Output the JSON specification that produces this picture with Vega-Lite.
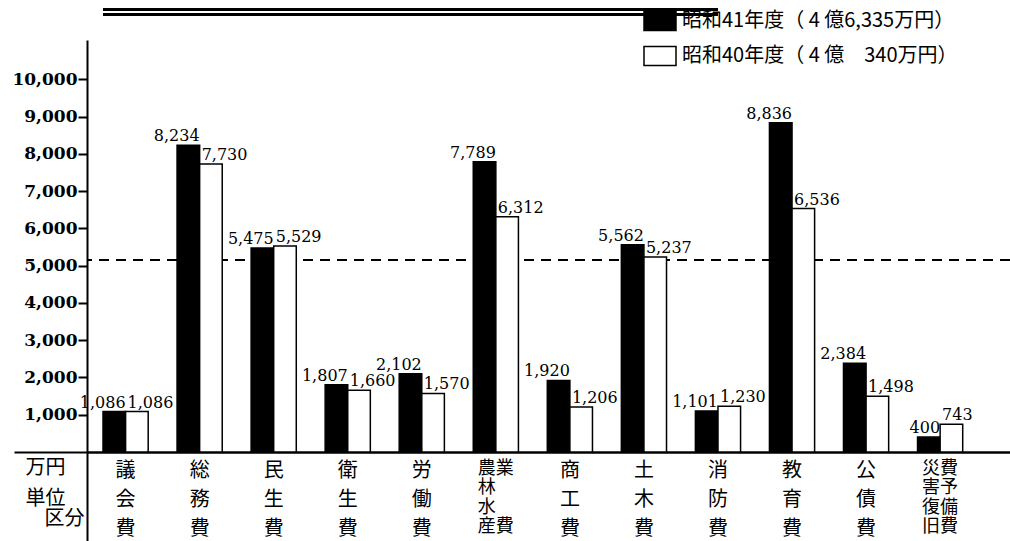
{
  "$schema": "https://vega.github.io/schema/vega-lite/v6.json",
  "width": 923,
  "height": 501,
  "autosize": {"type": "none"},
  "padding": {"left": 87, "top": 40, "right": 0, "bottom": 0},
  "background": "white",
  "config": {"view": {"stroke": null}, "font": "Noto Sans CJK JP"},
  "data": {
    "values": [
      {"区分": "議会費", "年度": "昭和41年度（ 4 億6,335万円）", "金額": 1086},
      {"区分": "議会費", "年度": "昭和40年度（ 4 億　340万円）", "金額": 1086},
      {"区分": "総務費", "年度": "昭和41年度（ 4 億6,335万円）", "金額": 8234},
      {"区分": "総務費", "年度": "昭和40年度（ 4 億　340万円）", "金額": 7730},
      {"区分": "民生費", "年度": "昭和41年度（ 4 億6,335万円）", "金額": 5475},
      {"区分": "民生費", "年度": "昭和40年度（ 4 億　340万円）", "金額": 5529},
      {"区分": "衛生費", "年度": "昭和41年度（ 4 億6,335万円）", "金額": 1807},
      {"区分": "衛生費", "年度": "昭和40年度（ 4 億　340万円）", "金額": 1660},
      {"区分": "労働費", "年度": "昭和41年度（ 4 億6,335万円）", "金額": 2102},
      {"区分": "労働費", "年度": "昭和40年度（ 4 億　340万円）", "金額": 1570},
      {"区分": "農林水産業費", "年度": "昭和41年度（ 4 億6,335万円）", "金額": 7789},
      {"区分": "農林水産業費", "年度": "昭和40年度（ 4 億　340万円）", "金額": 6312},
      {"区分": "商工費", "年度": "昭和41年度（ 4 億6,335万円）", "金額": 1920},
      {"区分": "商工費", "年度": "昭和40年度（ 4 億　340万円）", "金額": 1206},
      {"区分": "土木費", "年度": "昭和41年度（ 4 億6,335万円）", "金額": 5562},
      {"区分": "土木費", "年度": "昭和40年度（ 4 億　340万円）", "金額": 5237},
      {"区分": "消防費", "年度": "昭和41年度（ 4 億6,335万円）", "金額": 1101},
      {"区分": "消防費", "年度": "昭和40年度（ 4 億　340万円）", "金額": 1230},
      {"区分": "教育費", "年度": "昭和41年度（ 4 億6,335万円）", "金額": 8836},
      {"区分": "教育費", "年度": "昭和40年度（ 4 億　340万円）", "金額": 6536},
      {"区分": "公債費", "年度": "昭和41年度（ 4 億6,335万円）", "金額": 2384},
      {"区分": "公債費", "年度": "昭和40年度（ 4 億　340万円）", "金額": 1498},
      {"区分": "災害復旧費・予備費", "年度": "昭和41年度（ 4 億6,335万円）", "金額": 400},
      {"区分": "災害復旧費・予備費", "年度": "昭和40年度（ 4 億　340万円）", "金額": 743}
    ]
  },
  "layer": [
    {
      "mark": {"type": "rule", "strokeDash": [10, 7], "strokeWidth": 1.6, "color": "black"},
      "encoding": {"y": {"datum": 5150}}
    },
    {
      "mark": {"type": "bar", "stroke": "black", "strokeWidth": 1.5},
      "encoding": {
        "x": {
          "field": "区分",
          "type": "nominal",
          "sort": null,
          "scale": {"paddingInner": 0.39, "paddingOuter": 0.4275, "align": 0.253},
          "axis": {
            "orient": "bottom",
            "offset": -89,
            "domainColor": "black",
            "domainWidth": 2.5,
            "ticks": false,
            "labelAngle": 0,
            "labelFont": "Noto Sans CJK JP",
            "labelFontSize": 20,
            "labelLineHeight": 29,
            "labelBaseline": "top",
            "labelPadding": 8,
            "labelColor": "black",
            "labelBound": false,
            "labelOverlap": false,
            "labelLimit": 0,
            "labelExpr": "length(datum.label) > 3 ? '' : [slice(datum.label,0,1), slice(datum.label,1,2), slice(datum.label,2,3)]",
            "title": "区分",
            "titleX": -23,
            "titleY": 56,
            "titleAlign": "center",
            "titleBaseline": "top",
            "titleFont": "Noto Sans CJK JP",
            "titleFontSize": 20,
            "titleFontWeight": "normal",
            "titleColor": "black"
          }
        },
        "xOffset": {
          "field": "年度",
          "type": "nominal",
          "scale": {"domain": ["昭和41年度（ 4 億6,335万円）", "昭和40年度（ 4 億　340万円）"], "paddingInner": 0}
        },
        "y": {
          "field": "金額",
          "type": "quantitative",
          "scale": {"domain": [-2390, 11060], "nice": false, "zero": false},
          "axis": {
            "values": [0, 1000, 2000, 3000, 4000, 5000, 6000, 7000, 8000, 9000, 10000],
            "labelExpr": "datum.value == 0 ? '' : format(datum.value, ',')",
            "labelFont": "DejaVu Serif",
            "labelFontSize": 17,
            "labelFontWeight": "bold",
            "labelColor": "black",
            "labelPadding": 1,
            "tickColor": "black",
            "tickWidth": 2,
            "tickSize": {"condition": {"test": "datum.value == 0", "value": 73}, "value": 9},
            "domainColor": "black",
            "domainWidth": 2,
            "grid": false,
            "title": ["万円", "単位"],
            "titleAngle": 0,
            "titleAlign": "right",
            "titleBaseline": "top",
            "titleX": -22,
            "titleY": 417,
            "titleFont": "Noto Sans CJK JP",
            "titleFontSize": 20,
            "titleFontWeight": "normal",
            "titleLineHeight": 31,
            "titleColor": "black"
          }
        },
        "y2": {"datum": 0},
        "color": {
          "field": "年度",
          "type": "nominal",
          "scale": {"domain": ["昭和41年度（ 4 億6,335万円）", "昭和40年度（ 4 億　340万円）"], "range": ["black", "white"]},
          "legend": {
            "orient": "none",
            "legendX": 556,
            "legendY": -36,
            "title": null,
            "symbolType": "M-1,-0.6H1V0.6H-1Z",
            "symbolSize": 1024,
            "symbolStrokeColor": "black",
            "symbolStrokeWidth": 1.5,
            "symbolOpacity": 1,
            "labelFont": "Noto Sans CJK JP",
            "labelFontSize": 20,
            "labelColor": "black",
            "labelOffset": 5,
            "labelLimit": 0,
            "rowPadding": 5
          }
        }
      }
    },
    {
      "transform": [{"filter": "datum['年度'] == '昭和41年度（ 4 億6,335万円）'"}],
      "mark": {"type": "text", "align": "right", "baseline": "alphabetic", "dx": 0, "dy": -4, "font": "DejaVu Serif", "fontSize": 16, "color": "black"},
      "encoding": {
        "x": {"field": "区分", "type": "nominal", "sort": null},
        "y": {"field": "金額", "type": "quantitative"},
        "text": {"field": "金額", "type": "quantitative", "format": ","}
      }
    },
    {
      "transform": [{"filter": "datum['年度'] == '昭和40年度（ 4 億　340万円）'"}],
      "mark": {"type": "text", "align": "left", "baseline": "alphabetic", "dx": 2, "dy": -4, "font": "DejaVu Serif", "fontSize": 16, "color": "black"},
      "encoding": {
        "x": {"field": "区分", "type": "nominal", "sort": null},
        "y": {"field": "金額", "type": "quantitative"},
        "text": {"field": "金額", "type": "quantitative", "format": ","}
      }
    },
    {
      "transform": [
        {"filter": "datum['年度'] == '昭和41年度（ 4 億6,335万円）' && length(datum['区分']) > 3"},
        {"calculate": "datum['区分'] == '農林水産業費' ? ['農業', '林', '水', '産費'] : ['災費', '害予', '復備', '旧費']", "as": "縦書き"}
      ],
      "mark": {"type": "text", "align": "left", "dx": -18, "baseline": "top", "lineHeight": 19.5, "font": "Noto Sans CJK JP", "fontSize": 18, "color": "black"},
      "encoding": {
        "x": {"field": "区分", "type": "nominal", "sort": null},
        "y": {"datum": -215},
        "text": {"field": "縦書き", "type": "nominal"}
      }
    },
    {
      "mark": {"type": "rule", "strokeWidth": 2.6, "color": "black"},
      "encoding": {
        "x": {"datum": "議会費", "bandPosition": 0},
        "x2": {"datum": "消防費"},
        "y": {"datum": 11879}
      }
    },
    {
      "mark": {"type": "rule", "strokeWidth": 2.6, "color": "black"},
      "encoding": {
        "x": {"datum": "議会費", "bandPosition": 0},
        "x2": {"datum": "消防費"},
        "y": {"datum": 11745}
      }
    }
  ]
}
